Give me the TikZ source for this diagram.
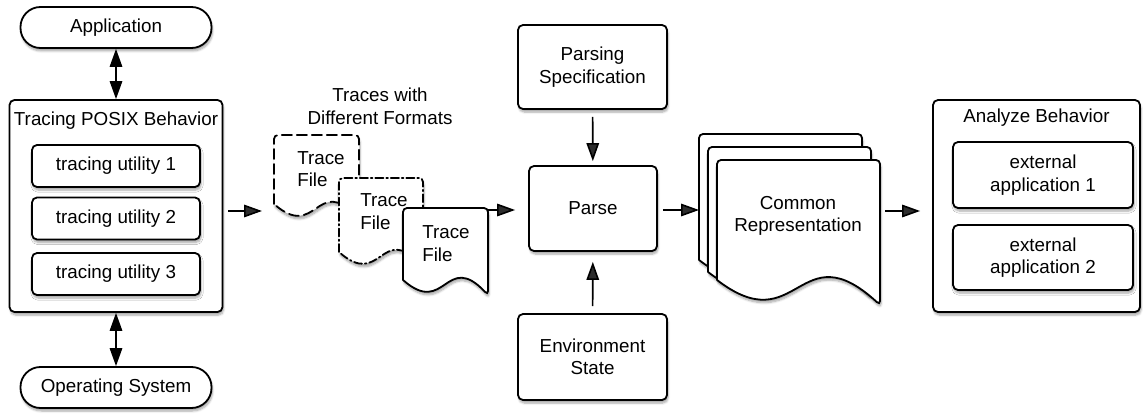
\documentclass[tikz,border=0pt]{standalone}
\usepackage{fontspec}
\setmainfont{Liberation Sans}
\usetikzlibrary{arrows.meta,shadows.blur}
\newcommand{\figfont}{\fontsize{18.8}{22.5}\selectfont}
\newcommand{\docpage}[6][]{% x, y, w, h, d
  \filldraw[page,#1] (#2,{#3+#5}) -- (#2,#3) -- ({#2+#4},#3) -- ({#2+#4},{#3+#5+#6})
    .. controls ({#2+0.5*#4},{#3+#5-2*#6}) and ({#2+0.5*#4},{#3+#5+2.5*#6}) .. (#2,{#3+#5});}

\begin{document}
\begin{tikzpicture}[x=1pt,y=-1pt,font=\figfont,
    sh/.style={blur shadow={shadow xshift=1pt,shadow yshift=-3pt,shadow blur steps=6,shadow opacity=35}},
    box/.style={draw,line width=1.8pt,rounded corners=5pt,fill=white,align=center,sh},
    pill/.style={box,rounded corners=20pt},
    page/.style={draw,line width=1.8pt,fill=white,rounded corners=4pt,line cap=round,sh},
    lbl/.style={inner sep=0pt,align=center},
    arr/.style={line width=1.6pt,-{Triangle[length=18pt,width=12.5pt]}},
    darr/.style={line width=1.6pt,{Triangle[length=18pt,width=12.5pt]}-{Triangle[length=18pt,width=12.5pt]}}]
  \useasboundingbox (0,0) rectangle (1143,414);

  \node[pill,minimum width=191pt,minimum height=41pt] (App) at (116,27.5) {Application};
  \node[box,minimum width=213pt,minimum height=212pt] (Posix) at (116,206) {};
  \node[lbl] (PosixT) at (116,121) {Tracing POSIX Behavior};
  \node[box,minimum width=168pt,minimum height=42pt] (U1) at (116,166) {tracing utility 1};
  \node[box,minimum width=168pt,minimum height=42pt] (U2) at (116,218.5) {tracing utility 2};
  \node[box,minimum width=168pt,minimum height=42pt] (U3) at (116,274) {tracing utility 3};
  \node[pill,minimum width=191pt,minimum height=41pt] (OS) at (116,387.5) {Operating System};
  \draw[darr] (App) -- (Posix);
  \draw[darr] (Posix) -- (OS);

  \node[lbl] (Fmt) at (380,106.5) {Traces with\\Different Formats};
  \docpage[dash pattern=on 10pt off 5pt]{274}{135}{85}{69}{15}
  \node[lbl,align=left] (TF1) at (321,169) {Trace\\File};
  \docpage[dash pattern=on 8pt off 3pt on 1.5pt off 3pt]{339}{178}{84}{74}{15}
  \node[lbl,align=left] (TF2) at (384,211.5) {Trace\\File};
  \docpage{403}{208}{85}{72}{15}
  \node[lbl,align=left] (TF3) at (446,243.5) {Trace\\File};
  \coordinate (f1in) at (262,211);
  \coordinate (f3out) at (488,210);
  \draw[arr,shorten <=5pt] (Posix.east |- f1in) -- (f1in);

  \node[box,minimum width=149pt,minimum height=84pt] (Spec) at (592.5,67) {Parsing\\Specification};
  \node[box,minimum width=128pt,minimum height=85pt] (Parse) at (593,208.5) {Parse};
  \node[box,minimum width=149pt,minimum height=86pt] (Env) at (592.5,357) {Environment\\State};
  \draw[arr,shorten >=13pt] (f3out) -- (Parse.west |- f3out);
  \draw[arr,shorten <=7pt,shorten >=4pt] (Spec) -- (Parse);
  \draw[arr,shorten <=7pt,shorten >=10pt] (Env) -- (Parse);

  \docpage{699}{134}{163}{126}{25}
  \docpage{708}{147}{163}{125}{25}
  \docpage{717}{160}{163}{120}{25}
  \node[lbl] (Common) at (798,216) {Common\\Representation};
  \coordinate (crin) at (699,210);
  \coordinate (crout) at (885,211);
  \draw[arr,shorten <=5pt] (Parse.east |- crin) -- (crin);

  \node[box,minimum width=207pt,minimum height=212pt] (Analyze) at (1036.5,206) {};
  \node[lbl] (AnalyzeT) at (1036.5,118) {Analyze Behavior};
  \node[box,minimum width=180pt,minimum height=66pt] (Ext1) at (1043,175) {external\\application 1};
  \node[box,minimum width=180pt,minimum height=65pt] (Ext2) at (1043,257.5) {external\\application 2};
  \draw[arr,shorten >=12pt] (crout) -- (crout -| Analyze.west);
\end{tikzpicture}
\end{document}
